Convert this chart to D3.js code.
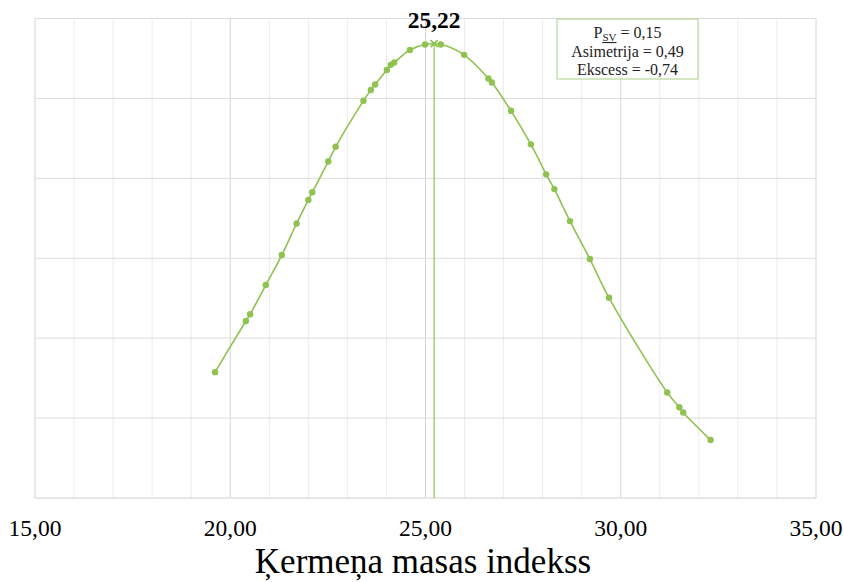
<!DOCTYPE html>
<html>
<head>
<meta charset="utf-8">
<script src="https://cdn.jsdelivr.net/npm/d3@7"></script>
</head>
<body style="margin:0">
<svg id="c" width="844" height="582" style="font-family:'Times New Roman'"></svg>
<script>
// ── Data ────────────────────────────────────────────────────────────────────
const bmi = [19.61, 20.40, 20.51, 20.91, 21.32, 21.70, 22.00, 22.10, 22.51, 22.70,
             23.41, 23.60, 23.71, 24.01, 24.11, 24.20, 24.60, 24.99, 25.39, 25.99,
             26.61, 26.70, 27.19, 27.70, 28.09, 28.30, 28.70, 29.21, 29.70, 31.19,
             31.50, 31.60, 32.30];
const density = [0.0315, 0.0443, 0.0460, 0.0533, 0.0608, 0.0687, 0.0746, 0.0765, 0.0842, 0.0879,
                 0.0994, 0.1021, 0.1035, 0.1071, 0.1084, 0.1090, 0.1121, 0.1135, 0.1135, 0.1109,
                 0.1050, 0.1040, 0.0969, 0.0885, 0.0810, 0.0773, 0.0693, 0.0598, 0.0501, 0.0264,
                 0.0227, 0.0214, 0.0145];
const meanX = 25.22;
const meanY = 0.1137;
const xTicks = [15, 20, 25, 30, 35];
const yTicks = [0, 0.02, 0.04, 0.06, 0.08, 0.1, 0.12];
const stats = [["P", "SV", " = 0,15"], ["Asimetrija = 0,49"], ["Ekscess = -0,74"]];

// ── Layout ──────────────────────────────────────────────────────────────────
const M = { left: 35, right: 28, top: 18.5, bottom: 84 };
const W = 844, H = 582;
const svg = d3.select('#c');
const x = d3.scaleLinear().domain([15, 35]).range([M.left, W - M.right]);
const y = d3.scaleLinear().domain([0, 0.12]).range([H - M.bottom, M.top]);
const green = '#8fc250';
const fmt = v => v.toFixed(2).replace('.', ',');

// ── Grid ────────────────────────────────────────────────────────────────────
const minor = d3.range(15, 35.5, 1);
svg.append('g').selectAll('line').data(minor).join('line')
  .attr('x1', d => x(d)).attr('x2', d => x(d))
  .attr('y1', y(0)).attr('y2', y(0.12))
  .attr('stroke', d => d % 5 === 0 ? '#d4d4d4' : '#ececec')
  .attr('stroke-width', 1);
svg.append('g').selectAll('line').data(yTicks).join('line')
  .attr('x1', x(15)).attr('x2', x(35))
  .attr('y1', d => y(d)).attr('y2', d => y(d))
  .attr('stroke', d => d === 0 ? '#d0d0d0' : '#dcdcdc')
  .attr('stroke-width', 1);

// ── X axis labels (tick text written by hand so no sans-serif attr is set) ─
const xAxis = svg.append('g').attr('transform', `translate(0,${y(0)})`);
xAxis.selectAll('text').data(xTicks).join('text')
  .attr('x', d => x(d)).attr('y', 38)
  .attr('text-anchor', 'middle').attr('fill', '#000').attr('font-size', 23.5)
  .text(fmt);

svg.append('text')
  .attr('x', 423).attr('y', 573)
  .attr('text-anchor', 'middle').attr('fill', '#000').attr('font-size', 35)
  .text('Ķermeņa masas indekss');

// ── Curve + markers ─────────────────────────────────────────────────────────
const pts = bmi.map((b, i) => [b, density[i]]);
svg.append('path')
  .datum(pts)
  .attr('fill', 'none').attr('stroke', green).attr('stroke-width', 1.6)
  .attr('d', d3.line().x(d => x(d[0])).y(d => y(d[1])).curve(d3.curveCatmullRom.alpha(0.5)));

svg.append('g').selectAll('circle').data(pts).join('circle')
  .attr('cx', d => x(d[0])).attr('cy', d => y(d[1])).attr('r', 3.2)
  .attr('fill', green);

// ── Mean line + marker ──────────────────────────────────────────────────────
svg.append('line')
  .attr('x1', x(meanX)).attr('x2', x(meanX))
  .attr('y1', y(meanY)).attr('y2', y(0))
  .attr('stroke', green).attr('stroke-width', 1.2);
svg.append('path')
  .attr('transform', `translate(${x(meanX)},${y(meanY)})`)
  .attr('d', 'M-3.5,-3.5L3.5,3.5M-3.5,3.5L3.5,-3.5')
  .attr('stroke', green).attr('stroke-width', 1.6);
svg.append('text')
  .attr('x', x(meanX)).attr('y', 28)
  .attr('text-anchor', 'middle').attr('font-weight', 'bold').attr('font-size', 23.5)
  .text(fmt(meanX));

// ── Stats box ───────────────────────────────────────────────────────────────
const box = svg.append('g').attr('transform', 'translate(557,19)');
box.append('rect').attr('width', 141).attr('height', 60)
  .attr('fill', '#fff').attr('stroke', '#a9cf85').attr('stroke-width', 1);
stats.forEach((s, i) => {
  const t = box.append('text')
    .attr('x', 70.5).attr('y', 19 + i * 18.5)
    .attr('text-anchor', 'middle').attr('fill', '#222').attr('font-size', 16);
  if (s.length === 3) {
    t.append('tspan').text(s[0]);
    t.append('tspan').attr('font-size', 11).attr('dy', 3)
      .attr('text-decoration', 'underline').text(s[1]);
    t.append('tspan').attr('dy', -3).text(s[2]);
  } else {
    t.text(s[0]);
  }
});
</script>
</body>
</html>
